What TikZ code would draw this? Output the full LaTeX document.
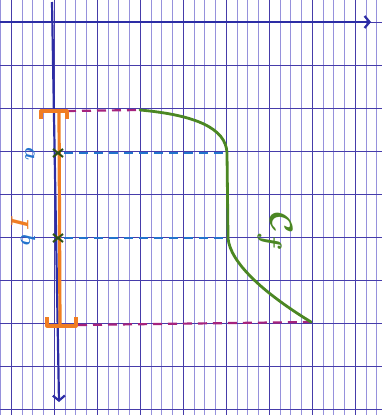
\documentclass[tikz,border=0pt]{standalone}
\usetikzlibrary{arrows.meta}
\definecolor{gridblue}{RGB}{150,145,220}
\definecolor{griddark}{RGB}{70,60,170}
\definecolor{axisblue}{RGB}{45,45,165}
\definecolor{penorange}{RGB}{240,125,35}
\definecolor{pengreen}{RGB}{75,135,35}
\definecolor{penblue}{RGB}{35,115,205}
\definecolor{penpurple}{RGB}{165,35,125}
\tikzstyle{thingrid} = [gridblue, line width=0.5pt]
\tikzstyle{thickgrid} = [griddark, line width=0.9pt]
\tikzstyle{axis} = [axisblue, line width=2.2pt, -{Straight Barb[length=5pt,width=12pt]}]
\tikzstyle{bound} = [penpurple, line width=2.2pt, dash pattern=on 9pt off 6pt]
\tikzstyle{level} = [penblue, line width=2.2pt, dash pattern=on 9pt off 6pt]
\tikzstyle{curve} = [pengreen, line width=2.8pt, line cap=round]
\tikzstyle{interval} = [penorange, line width=3.2pt, line join=round]
\tikzstyle{cross} = [pengreen!60!black, line width=2pt]
\tikzstyle{lab} = [rotate=-90, inner sep=0pt]

\begin{document}
\begin{tikzpicture}[x=1pt, y=-1pt]

    \useasboundingbox (0,0) rectangle (382,415);
    \fill[white] (0,0) rectangle (382,415);

    % Grid
    \foreach \i in {0,...,35}
        \draw[thingrid] ({0.25+10.75*\i},0) -- ++(0,415);
    \foreach \i in {0,...,8}
        \draw[thickgrid] ({11+43*\i},0) -- ++(0,415);
    \foreach \j in {0,...,9}
        \draw[thickgrid] (0,{22+43.1*\j}) -- ++(382,0);

    % Points
    \coordinate (start) at (140,110);
    \coordinate (pa) at (227,153);
    \coordinate (pb) at (228,238);
    \coordinate (stop) at (311,322);
    \coordinate (ta) at (58,153);
    \coordinate (tb) at (58,238);

    % Axes
    \draw[axis] (0,22) -- (371,22);
    \draw[axis] (52,2) -- (59,402);

    % Dashed lines
    \draw[bound] (67,111) -- (start);
    \draw[level] (ta) ++(6,0) -- (pa);
    \draw[level] (tb) ++(6,0) -- (pb);
    \draw[bound] (78,325) -- (stop);

    % Interval
    \draw[interval] (41,119) -- (41,111) -- (67,111) -- (67,119);
    \draw[interval] (59,111) -- (60,326);
    \draw[interval] (47,317) -- (47,326) -- (76,326) -- (76,317);

    % Curve
    \draw[curve] (start) .. controls (195,115) and (226,128) .. (pa)
        -- (pb) .. controls (230,262) and (262,292) .. (stop);

    % Marks
    \draw[cross] (ta) ++(-5,-4) -- ++(10,8) ++(0,-8) -- ++(-10,8);
    \draw[cross] (tb) ++(-5,-4) -- ++(10,8) ++(0,-8) -- ++(-10,8);

    % Labels
    \node (la) [lab, penblue, font=\huge\boldmath] at (30,154) {$a$};
    \node (lb) [lab, penblue, font=\huge\boldmath] at (28,240) {$b$};
    \node (li) [lab, penorange, font=\Huge\boldmath] at (20,223) {$I$};
    \node (lc) [lab, pengreen, font=\Huge\boldmath, scale=1.3] at (275,232) {$\mathcal{C}_f$};

\end{tikzpicture}
\end{document}
